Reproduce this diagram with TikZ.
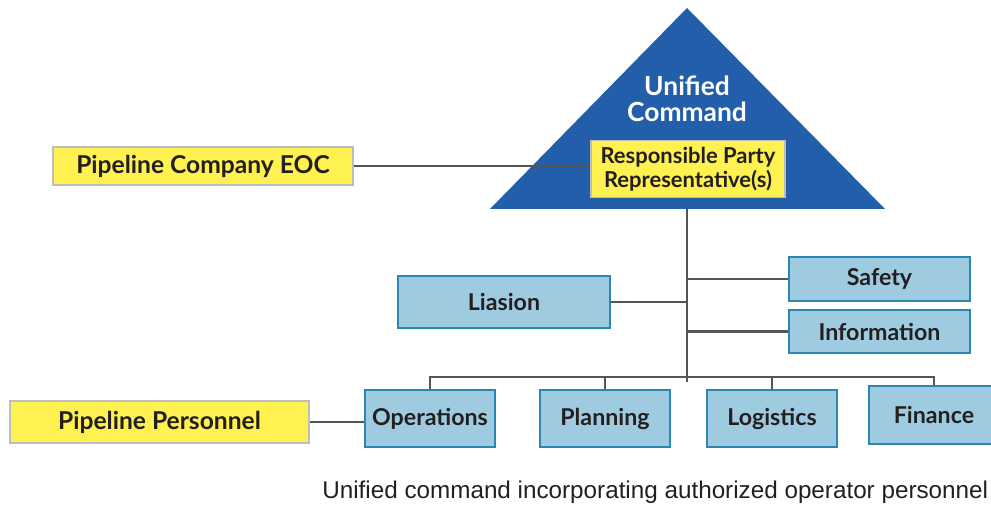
\documentclass[tikz,border=0pt]{standalone}
\usepackage{fontspec}
\setmainfont{Lato}
\newfontfamily\capfont{Liberation Sans}
\usetikzlibrary{calc}
\definecolor{ucblue}{HTML}{235EAA}
\definecolor{pipeyellow}{HTML}{FFF150}
\definecolor{boxgray}{HTML}{BDBDBD}
\definecolor{boxblue}{HTML}{9FCBE0}
\definecolor{boxedge}{HTML}{2B86B4}
\definecolor{linegray}{HTML}{555555}
\definecolor{darktext}{HTML}{231F20}
\tikzset{
  every picture/.style={
    x=0.02cm, y=-0.02cm
  },
  yellowbox/.style={
    draw=boxgray, fill=pipeyellow, line width=0.8pt,
    text=darktext, font=\bfseries\fontsize{14}{15}\selectfont,
    align=center, inner sep=0pt
  },
  bluebox/.style={
    draw=boxedge, fill=boxblue, line width=0.8pt,
    text=darktext, font=\bfseries\fontsize{13.2}{15}\selectfont,
    align=center, inner sep=0pt
  },
  link/.style={
    draw=linegray, line width=1.3pt
  }
}
\begin{document}
\begin{tikzpicture}
      \useasboundingbox (0,0) rectangle (991,506);
      % command triangle
      \coordinate (apex) at (687,8);
      \coordinate (base) at (687,209);
      \fill[ucblue] (apex) -- (885,209) -- (490,209) -- cycle;
      \node[text=white, align=center, font=\bfseries\fontsize{15}{14.5}\selectfont] (uc) at (687,99) {Unified\\Command};
      \node[yellowbox, font=\bfseries\fontsize{12.5}{13.8}\selectfont, minimum width=3.88cm, minimum height=1.14cm] (rpr) at (688,169) {Responsible Party\\Representative(s)};
      \node[yellowbox, minimum width=6cm, minimum height=0.76cm] (eoc) at (203,166) {Pipeline Company EOC};
      \draw[link] (eoc.east) -- (eoc.east -| rpr.west);
      % staff
      \node[bluebox, minimum width=4.24cm, minimum height=1.04cm] (liaison) at (504,302) {Liasion};
      \node[bluebox, minimum width=3.62cm, minimum height=0.88cm] (safety) at (879.5,279) {Safety};
      \node[bluebox, minimum width=3.62cm, minimum height=0.86cm] (info) at (879.5,331.5) {Information};
      \coordinate (bus) at (687,377);
      \draw[link] (base) -- ($(bus)+(0,5)$);
      \draw[link] (liaison.east) -- (liaison.east -| base);
      \draw[link] (safety.west) -- (safety.west -| base);
      \draw[link] (info.west) -- (info.west -| base);
      % sections
      \node[bluebox, minimum width=2.6cm, minimum height=1.14cm] (ops) at (430,418.5) {Operations};
      \node[bluebox, minimum width=2.6cm, minimum height=1.14cm] (plan) at (605,418.5) {Planning};
      \node[bluebox, minimum width=2.6cm, minimum height=1.14cm] (logi) at (772,418.5) {Logistics};
      \node[bluebox, minimum width=2.6cm, minimum height=1.16cm] (fin) at (934,415) {Finance};
      \draw[link] (ops.north) -- (ops.north |- bus) -- (fin.north |- bus) -- (fin.north);
      \draw[link] (plan.north) -- (plan.north |- bus);
      \draw[link] (logi.north) -- (logi.north |- bus);
      \node[yellowbox, minimum width=5.98cm, minimum height=0.84cm] (pers) at (159.5,422) {Pipeline Personnel};
      \draw[link] (pers.east) -- (pers.east -| ops.west);
      \node[anchor=west, font=\capfont\fontsize{13.8}{16}\selectfont, text=darktext, inner sep=0pt] (cap) at (322,492) {Unified command incorporating authorized operator personnel};
\end{tikzpicture}
\end{document}
